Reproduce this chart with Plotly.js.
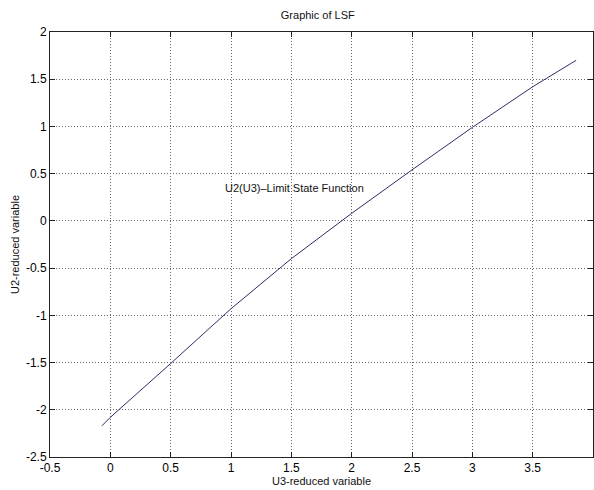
<!DOCTYPE html>
<html>
<head>
<meta charset="utf-8">
<script src="https://cdn.plot.ly/plotly-3.0.1.min.js"></script>
<style>html,body{margin:0;padding:0;background:#fff;}#chart{width:594px;height:490px;}</style>
</head>
<body>
<div id="chart"></div>
<script>
const u3 = [-0.07, 0, 0.5, 1, 1.5, 2, 2.5, 3, 3.5, 3.86];
const u2 = [-2.17, -2.08, -1.51, -0.93, -0.40, 0.08, 0.54, 0.99, 1.42, 1.70];
const xTicks = [-0.5, 0, 0.5, 1, 1.5, 2, 2.5, 3, 3.5, 4];
const xTickText = ['-0.5', '0', '0.5', '1', '1.5', '2', '2.5', '3', '3.5', '4'];
const yTicks = [-2.5, -2, -1.5, -1, -0.5, 0, 0.5, 1, 1.5, 2];
const yTickText = ['-2.5', '-2', '-1.5', '-1', '-0.5', '0', '0.5', '1', '1.5', '2'];
const titleText = 'Graphic of LSF';
const xTitle = 'U3-reduced variable';
const yTitle = 'U2-reduced variable';
const labelText = 'U2(U3)\u2013Limit State Function';
const labelPos = [0.93, 0.35];

const font = {family: 'Liberation Sans, Arial, sans-serif', size: 11, color: '#111'};
const axisCommon = {
  showline: true, linecolor: '#222', linewidth: 1, mirror: 'ticks',
  ticks: 'inside', ticklen: 5, tickcolor: '#222', tickwidth: 1,
  showgrid: true, gridcolor: '#666', griddash: '1px,2px', gridwidth: 1,
  zeroline: false, tickfont: {family: font.family, size: 12, color: '#000'},
  tickmode: 'array'
};

const trace = {
  x: u3, y: u2, type: 'scatter', mode: 'lines',
  line: {color: '#2e2e66', width: 1}, hoverinfo: 'skip'
};

const layout = {
  width: 594, height: 490,
  margin: {l: 50, r: 1, t: 32, b: 33},
  paper_bgcolor: '#fff', plot_bgcolor: '#fff',
  showlegend: false,
  font: font,
  title: {text: titleText, font: {family: font.family, size: 11, color: '#111'}, x: 0.535, xanchor: 'center', y: 0.97, yanchor: 'middle'},
  xaxis: Object.assign({}, axisCommon, {
    range: [-0.5, 4], tickvals: xTicks, ticktext: xTickText,
    title: {text: xTitle, font: {family: font.family, size: 11, color: '#111'}, standoff: 2}
  }),
  yaxis: Object.assign({}, axisCommon, {
    range: [-2.5, 2], tickvals: yTicks, ticktext: yTickText,
    title: {text: yTitle, font: {family: font.family, size: 11, color: '#111'}, standoff: 4}
  }),
  annotations: [{
    x: labelPos[0], y: labelPos[1], xref: 'x', yref: 'y', text: labelText,
    showarrow: false, xanchor: 'left', yanchor: 'middle',
    font: {family: font.family, size: 11, color: '#111'}
  }]
};

Plotly.newPlot('chart', [trace], layout, {staticPlot: true, displayModeBar: false});
</script>
</body>
</html>
